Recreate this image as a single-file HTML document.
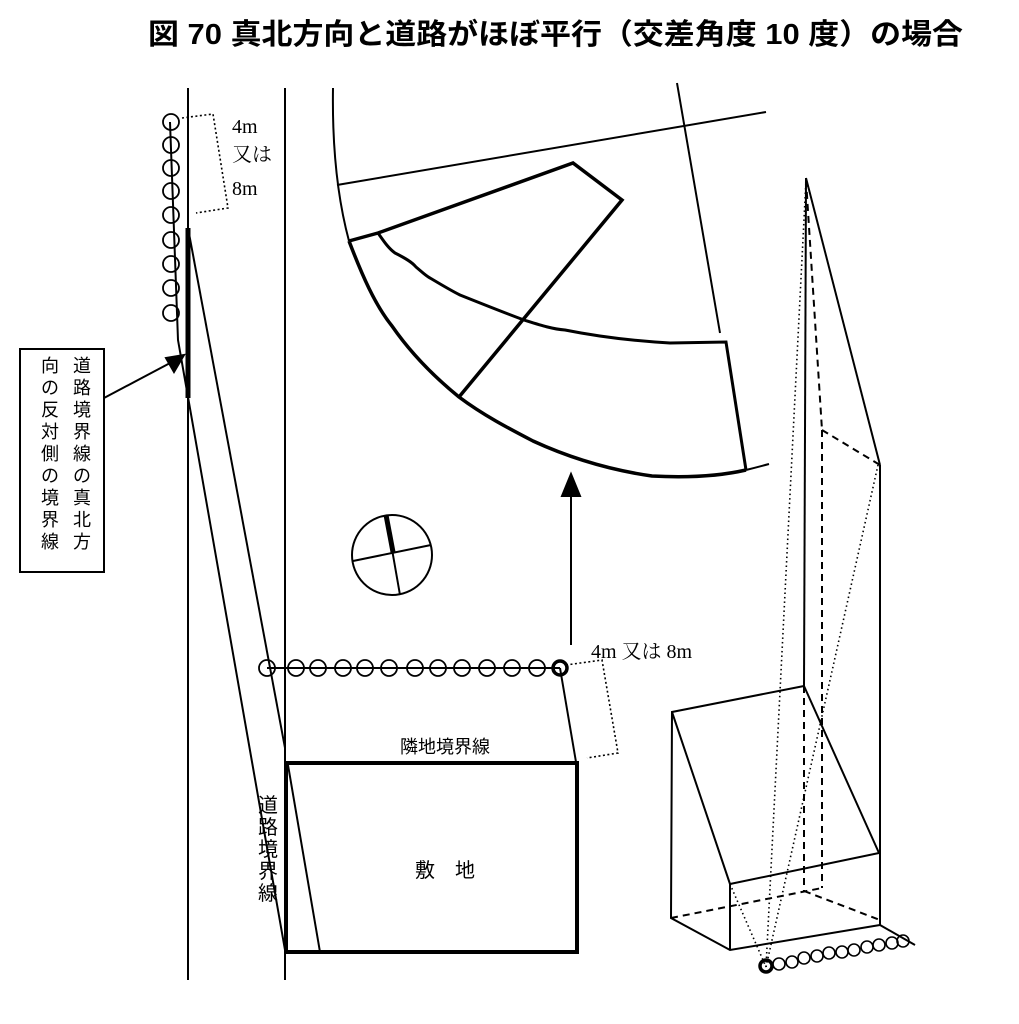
<!DOCTYPE html>
<html><head><meta charset="utf-8"><style>html,body{margin:0;padding:0;background:#fff}svg{display:block}</style></head><body>
<svg width="1019" height="1024" viewBox="0 0 1019 1024" xmlns="http://www.w3.org/2000/svg">
<text x="148" y="44" font-family="'Liberation Sans','Noto Sans CJK JP',sans-serif" font-weight="bold" font-size="29" textLength="815" lengthAdjust="spacingAndGlyphs">図 70 真北方向と道路がほぼ平行（交差角度 10 度）の場合</text>
<g stroke="#000" fill="none" stroke-width="2">
<line x1="188" y1="88" x2="188" y2="980"/>
<line x1="285" y1="88" x2="285" y2="980"/>
<polyline points="170,122 178,340 285,950"/>
<line x1="188" y1="228" x2="285" y2="748"/>
<line x1="188" y1="228" x2="188" y2="398" stroke-width="5"/>
<g stroke-width="1.8">
<circle cx="171" cy="122" r="8"/><circle cx="171" cy="145" r="8"/><circle cx="171" cy="168" r="8"/><circle cx="171" cy="191" r="8"/><circle cx="171" cy="215" r="8"/><circle cx="171" cy="240" r="8"/><circle cx="171" cy="264" r="8"/><circle cx="171" cy="288" r="8"/><circle cx="171" cy="313" r="8"/>
</g>
<polyline points="182,118 213,114 228,208 196,213" stroke-dasharray="2,2.5" stroke-width="1.6"/>
<rect x="20" y="349" width="84" height="223"/>
<line x1="104" y1="398" x2="172" y2="362"/>
<polygon points="184,355 166,358 174,372" fill="#000"/>
<line x1="267" y1="668" x2="560" y2="668"/>
<g stroke-width="1.8">
<circle cx="267" cy="668" r="8"/><circle cx="296" cy="668" r="8"/><circle cx="318" cy="668" r="8"/><circle cx="343" cy="668" r="8"/><circle cx="365" cy="668" r="8"/><circle cx="389" cy="668" r="8"/><circle cx="415" cy="668" r="8"/><circle cx="438" cy="668" r="8"/><circle cx="462" cy="668" r="8"/><circle cx="487" cy="668" r="8"/><circle cx="512" cy="668" r="8"/><circle cx="537" cy="668" r="8"/>
</g>
<circle cx="560" cy="668" r="7" stroke-width="3.5"/>
<line x1="560" y1="668" x2="576" y2="762"/>
<polyline points="566,665 602,660 618,753 587,758" stroke-dasharray="2,2.5" stroke-width="1.6"/>
<rect x="286" y="763" width="291" height="189" stroke-width="4"/>
<line x1="288" y1="765" x2="320" y2="952"/>
<line x1="571" y1="645" x2="571" y2="494"/>
<polygon points="571,474 562,496 580,496" fill="#000"/>
<path d="M333,88 C332,150 338,200 349,241" />
<path d="M746,470 Q758,467 769,464"/>
<line x1="337" y1="185" x2="766" y2="112"/>
<line x1="677" y1="83" x2="720" y2="333"/>
<path d="M349,241 C362,275 375,305 392,326 C410,352 432,375 459,397 C483,415 508,428 533,441 C570,458 610,470 652,476 C690,478 720,476 746,470" stroke-width="3.5"/>
<polyline points="349,241 378,233 573,163 622,200 459,397" stroke-width="3.5"/>
<path d="M378,233 C383,240 388,248 395,253 C405,258 412,262 416,267 C422,272 426,276 430,278 C442,285 450,290 460,295 C480,303 505,313 524,320 C540,325 552,329 565,330 C600,337 635,341 670,343 L726,342 L746,470" stroke-width="3"/>
<circle cx="392" cy="555" r="40"/>
<line x1="353" y1="561" x2="431" y2="545"/>
<line x1="386" y1="515" x2="400" y2="595"/>
<line x1="386" y1="515" x2="393" y2="552" stroke-width="5"/>
<line x1="806" y1="178" x2="880" y2="465"/>
<line x1="806" y1="178" x2="804" y2="686"/>
<line x1="880" y1="465" x2="880" y2="925"/>
<g stroke-dasharray="7,5">
<line x1="806" y1="180" x2="822" y2="430"/>
<line x1="822" y1="430" x2="880" y2="465"/>
<line x1="822" y1="430" x2="822" y2="888"/>
<line x1="804" y1="686" x2="804" y2="891"/>
<line x1="671" y1="918" x2="822" y2="888"/>
<line x1="804" y1="891" x2="880" y2="920"/>
</g>
<g stroke-dasharray="1.5,3" stroke-width="1.6">
<line x1="766" y1="967" x2="806" y2="180"/>
<line x1="766" y1="967" x2="878" y2="465"/>
<line x1="730" y1="884" x2="766" y2="967"/>
</g>
<polyline points="804,686 672,712 671,918 730,950 880,925"/>
<line x1="672" y1="712" x2="730" y2="884"/>
<line x1="804" y1="686" x2="879" y2="853"/>
<line x1="730" y1="884" x2="879" y2="853"/>
<line x1="730" y1="884" x2="730" y2="950"/>
<line x1="880" y1="925" x2="915" y2="945"/>
<g stroke-width="1.6">
<circle cx="779" cy="964" r="6"/><circle cx="792" cy="962" r="6"/><circle cx="804" cy="958" r="6"/><circle cx="817" cy="956" r="6"/><circle cx="829" cy="953" r="6"/><circle cx="842" cy="952" r="6"/><circle cx="854" cy="950" r="6"/><circle cx="867" cy="947" r="6"/><circle cx="879" cy="945" r="6"/><circle cx="892" cy="943" r="6"/><circle cx="903" cy="941" r="6"/>
</g>
<circle cx="766" cy="966" r="6" stroke-width="3.5"/>
</g>
<g font-family="'Liberation Serif','Noto Serif CJK SC',serif" font-size="20" fill="#000">
<text x="232" y="133">4m</text>
<text x="232" y="161">又は</text>
<text x="232" y="195">8m</text>
<text x="591" y="658">4m 又は 8m</text>
</g>
<g font-family="'Liberation Sans','Noto Sans CJK JP',sans-serif" font-size="18" fill="#000" text-anchor="middle">
<text x="445" y="753">隣地境界線</text>
<text x="445" y="877" font-size="20">敷　地</text>
<text font-size="20"><tspan x="268" y="812">道</tspan><tspan x="268" y="834">路</tspan><tspan x="268" y="856">境</tspan><tspan x="268" y="878">界</tspan><tspan x="268" y="900">線</tspan></text>
<text font-size="18"><tspan x="82" y="372">道</tspan><tspan x="82" y="394">路</tspan><tspan x="82" y="416">境</tspan><tspan x="82" y="438">界</tspan><tspan x="82" y="460">線</tspan><tspan x="82" y="482">の</tspan><tspan x="82" y="504">真</tspan><tspan x="82" y="526">北</tspan><tspan x="82" y="548">方</tspan></text>
<text font-size="18"><tspan x="50" y="372">向</tspan><tspan x="50" y="394">の</tspan><tspan x="50" y="416">反</tspan><tspan x="50" y="438">対</tspan><tspan x="50" y="460">側</tspan><tspan x="50" y="482">の</tspan><tspan x="50" y="504">境</tspan><tspan x="50" y="526">界</tspan><tspan x="50" y="548">線</tspan></text>
</g>
</svg>
</body></html>
